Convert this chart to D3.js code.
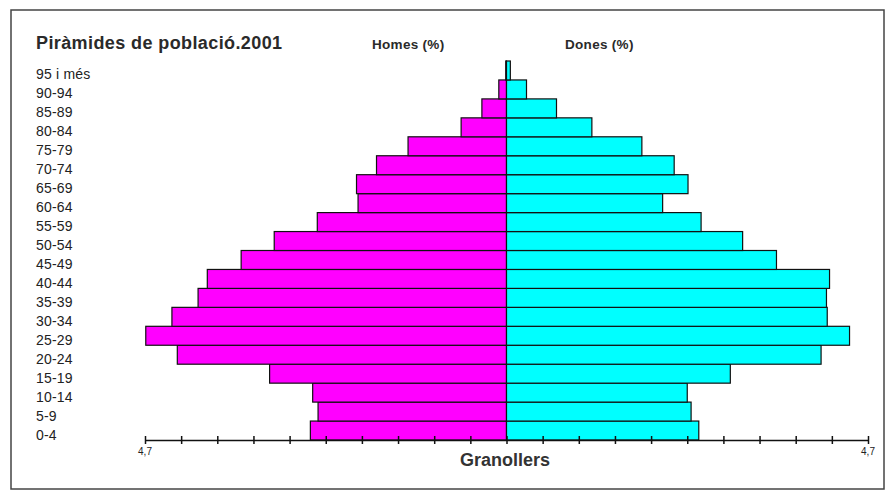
<!DOCTYPE html>
<html>
<head>
<meta charset="utf-8">
<script src="https://cdn.jsdelivr.net/npm/d3@7"></script>
<style>
    body { margin: 0; background: #fff; }
    svg text { font-family: "Liberation Sans", Arial, sans-serif; }
</style>
</head>
<body>
<svg id="pyramidSvg" width="888" height="495"></svg>
<script>
    // age groups, bottom to top
    var ages = ["0-4", "5-9", "10-14", "15-19", "20-24", "25-29", "30-34", "35-39", "40-44", "45-49",
        "50-54", "55-59", "60-64", "65-69", "70-74", "75-79", "80-84", "85-89", "90-94", "95 i més"];

    // percentages
    var homes = [2.55, 2.45, 2.52, 3.08, 4.28, 4.69, 4.35, 4.01, 3.89, 3.45,
        3.02, 2.46, 1.93, 1.95, 1.69, 1.28, 0.59, 0.32, 0.10, 0.01];
    var dones = [2.50, 2.40, 2.35, 2.91, 4.09, 4.46, 4.17, 4.16, 4.20, 3.51,
        3.07, 2.53, 2.03, 2.36, 2.18, 1.76, 1.11, 0.65, 0.26, 0.05];

    var maxValue = 4.7;
    var tickStep = 0.47;
    var tickLabels = ["4,7", "4,7"];

    var svg = d3.select("#pyramidSvg");

    // frame
    svg.append("rect")
        .attr("x", 11)
        .attr("y", 10)
        .attr("width", 873)
        .attr("height", 479)
        .attr("fill", "white")
        .attr("stroke", "#444")
        .attr("stroke-width", 1.5);

    var x = d3.scaleLinear()
        .domain([-maxValue, maxValue])
        .range([145, 868]);

    var y = d3.scaleBand()
        .domain(ages.slice().reverse())
        .range([61, 440])
        .padding(0);

    var rows = ages.map(function (a, i) {
        return { age: a, h: homes[i], d: dones[i] };
    });

    // men, left side
    svg.selectAll(".bar-homes")
        .data(rows)
        .enter()
        .append("rect")
        .attr("class", "bar-homes")
        .attr("x", function (d) { return x(-d.h); })
        .attr("y", function (d) { return y(d.age); })
        .attr("width", function (d) { return x(0) - x(-d.h); })
        .attr("height", y.bandwidth())
        .attr("fill", "#ff00ff")
        .attr("stroke", "#111")
        .attr("stroke-width", 1.2);

    // women, right side
    svg.selectAll(".bar-dones")
        .data(rows)
        .enter()
        .append("rect")
        .attr("class", "bar-dones")
        .attr("x", x(0))
        .attr("y", function (d) { return y(d.age); })
        .attr("width", function (d) { return x(d.d) - x(0); })
        .attr("height", y.bandwidth())
        .attr("fill", "#00ffff")
        .attr("stroke", "#111")
        .attr("stroke-width", 1.2);

    // age labels
    svg.selectAll(".age-label")
        .data(ages)
        .enter()
        .append("text")
        .attr("class", "age-label")
        .attr("x", 36)
        .attr("y", function (d) { return y(d) + y.bandwidth() - 0.5; })
        .attr("font-size", 14)
        .attr("letter-spacing", 0.2)
        .attr("fill", "#222")
        .text(function (d) { return d; });

    // bottom axis
    var tickValues = d3.range(-10, 11).map(function (k) { return k * tickStep; });
    var axis = d3.axisBottom(x)
        .tickValues(tickValues)
        .tickSizeInner(4)
        .tickSizeOuter(0)
        .tickFormat("");

    var axisG = svg.append("g")
        .attr("transform", "translate(0,440)")
        .call(axis);

    axisG.select(".domain").attr("stroke", "#111").attr("stroke-width", 1.5);
    axisG.selectAll(".tick line")
        .attr("y1", -4)
        .attr("stroke", "#111")
        .attr("stroke-width", 1.5);

    svg.append("text")
        .attr("x", x(-maxValue))
        .attr("y", 455)
        .attr("text-anchor", "middle")
        .attr("font-size", 10)
        .attr("fill", "#222")
        .text(tickLabels[0]);

    svg.append("text")
        .attr("x", x(maxValue))
        .attr("y", 455)
        .attr("text-anchor", "middle")
        .attr("font-size", 10)
        .attr("fill", "#222")
        .text(tickLabels[1]);

    // titles
    svg.append("text")
        .attr("x", 36)
        .attr("y", 49)
        .attr("font-size", 18)
        .attr("font-weight", "bold")
        .attr("letter-spacing", 0.4)
        .attr("fill", "#2a2a2a")
        .text("Piràmides de població.2001");

    svg.append("text")
        .attr("x", 372)
        .attr("y", 49)
        .attr("font-size", 13.5)
        .attr("font-weight", "bold")
        .attr("letter-spacing", 0.3)
        .attr("fill", "#2a2a2a")
        .text("Homes (%)");

    svg.append("text")
        .attr("x", 565)
        .attr("y", 49)
        .attr("font-size", 13.5)
        .attr("font-weight", "bold")
        .attr("letter-spacing", 0.3)
        .attr("fill", "#2a2a2a")
        .text("Dones (%)");

    svg.append("text")
        .attr("x", 460)
        .attr("y", 466)
        .attr("font-size", 18)
        .attr("font-weight", "bold")
        .attr("fill", "#333")
        .text("Granollers");
</script>
</body>
</html>
